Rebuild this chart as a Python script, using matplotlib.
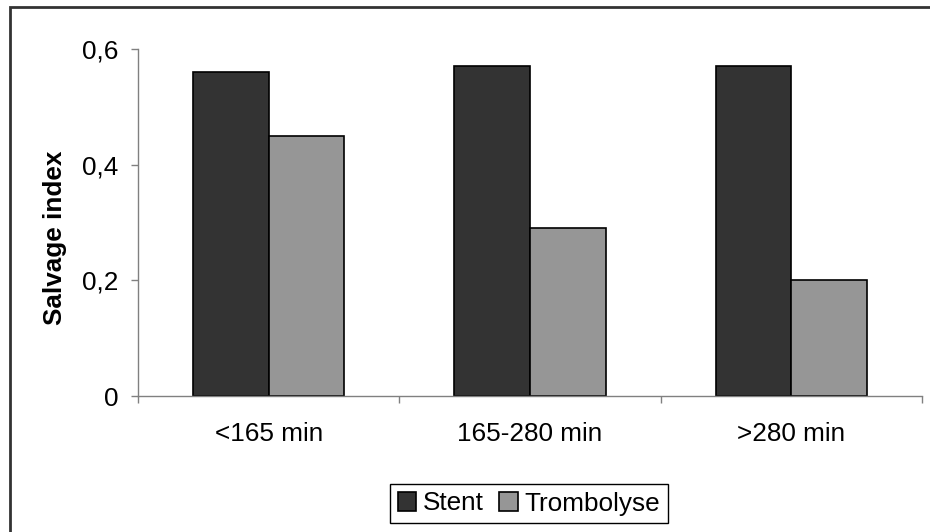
import numpy as np
import matplotlib.pyplot as plt
from matplotlib.patches import Rectangle
from matplotlib.ticker import FuncFormatter

# Data
categories = ["<165 min", "165-280 min", ">280 min"]
stent = [0.56, 0.57, 0.57]
trombolyse = [0.45, 0.29, 0.20]
series_names = ["Stent", "Trombolyse"]
y_ticks = [0, 0.2, 0.4, 0.6]

plt.rcParams['font.family'] = ['Liberation Sans', 'DejaVu Sans']
plt.rcParams['font.size'] = 18.8

fig = plt.figure(figsize=(9.3, 5.32), dpi=100)
ax = fig.add_axes([138/930, 1 - 396/532, 784/930, 347/532])

x = np.arange(len(categories))
w = 0.289
ax.bar(x - w/2, stent, w, color='#333333', edgecolor='black', linewidth=1.2, label=series_names[0])
ax.bar(x + w/2, trombolyse, w, color='#969696', edgecolor='black', linewidth=1.2, label=series_names[1])

ax.set_xlim(-0.5, len(categories) - 0.5)
ax.set_ylim(0, 0.6)
ax.set_yticks(y_ticks)
ax.yaxis.set_major_formatter(FuncFormatter(lambda v, p: "0" if v == 0 else ("%.1f" % v).replace(".", ",")))

# category boundaries get the tick marks, labels sit in between
ax.set_xticks(np.arange(len(categories) + 1) - 0.5)
ax.set_xticklabels([])
ax.set_xticks(x, minor=True)
ax.set_xticklabels(categories, minor=True)
ax.tick_params(axis='x', which='minor', length=0, pad=19)
ax.tick_params(axis='x', which='major', length=5, color='#808080', width=1)
ax.tick_params(axis='y', length=5, color='#808080', width=1, pad=9)

for s in ['top', 'right']:
    ax.spines[s].set_visible(False)
for s in ['left', 'bottom']:
    ax.spines[s].set_color('#808080')
    ax.spines[s].set_linewidth(1)

ax.set_ylabel("Salvage index", fontweight='bold', fontsize=18.8)
ax.yaxis.set_label_coords(-0.091, 0.455)

leg = fig.legend(loc='center', bbox_to_anchor=(529/930, 1 - 503.5/532), ncol=2,
                 frameon=True, fancybox=False, edgecolor='black', framealpha=1,
                 handlelength=0.7, handleheight=0.7, handletextpad=0.25,
                 columnspacing=0.6, borderpad=0.3, borderaxespad=0)
leg.get_frame().set_linewidth(1)

# outer chart border (right and bottom fall outside the image)
fig.patches.append(Rectangle((10/930, -0.1), 1.2, 1 - 7/532 + 0.1, transform=fig.transFigure,
                             fill=False, edgecolor='#333333', linewidth=2))

fig.savefig("out.png", dpi=100)
